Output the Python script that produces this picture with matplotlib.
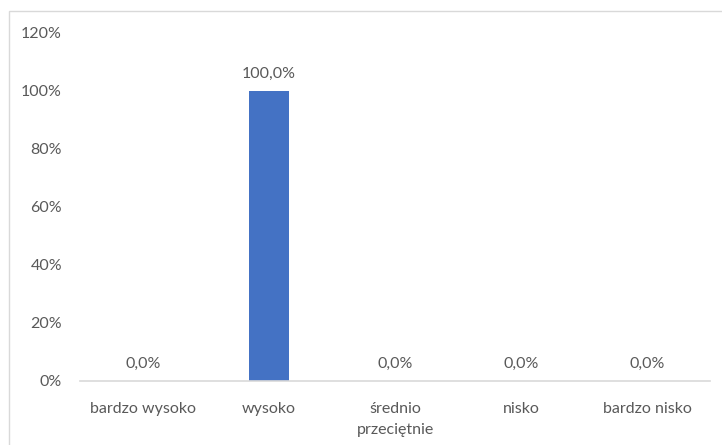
import matplotlib.pyplot as plt
from matplotlib.patches import Rectangle
from matplotlib.ticker import FuncFormatter

categories = ["bardzo wysoko", "wysoko", "średnio\nprzeciętnie", "nisko", "bardzo nisko"]
values = [0.0, 1.0, 0.0, 0.0, 0.0]
bar_labels = ["0,0%", "100,0%", "0,0%", "0,0%", "0,0%"]

plt.rcParams['font.family'] = ['Lato', 'DejaVu Sans']
gray = '#595959'

fig = plt.figure(figsize=(7.22, 4.45), dpi=100)
fig.patches.append(Rectangle((9 / 722, -0.1), 1.2, 1.1 - 11 / 445 + 0.0,
                             transform=fig.transFigure, fill=False,
                             edgecolor='#d9d9d9', linewidth=1))
ax = fig.add_axes([80 / 722, 1 - 381 / 445, 630 / 722, 348 / 445])

x = range(len(categories))
ax.bar(x, values, width=0.31, color='#4472C4')
for i, (v, lab) in enumerate(zip(values, bar_labels)):
    ax.text(i, v + 0.035, lab, ha='center', va='bottom', fontsize=11.5, color=gray)

ax.set_xlim(-0.5, len(categories) - 0.5)
ax.set_ylim(0, 1.2)
ax.set_yticks([0, 0.2, 0.4, 0.6, 0.8, 1.0, 1.2])
ax.yaxis.set_major_formatter(FuncFormatter(lambda v, p: f"{v * 100:.0f}%"))
ax.set_xticks(list(x))
ax.set_xticklabels(categories, va='top', linespacing=1.65)

for s in ['top', 'right', 'left']:
    ax.spines[s].set_visible(False)
ax.spines['bottom'].set_color('#d9d9d9')
ax.spines['bottom'].set_linewidth(1.2)
ax.tick_params(axis='both', length=0, labelsize=11.5, colors=gray)
ax.tick_params(axis='y', pad=13)
ax.tick_params(axis='x', pad=15)

fig.savefig('out.png', dpi=100)
